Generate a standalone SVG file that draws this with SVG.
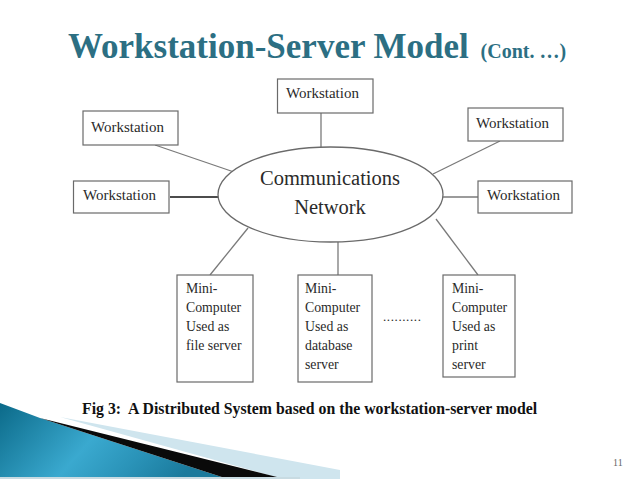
<svg xmlns="http://www.w3.org/2000/svg" width="638" height="479" viewBox="0 0 638 479">
<style>
.box{fill:#fff;stroke:#6a6a6a;stroke-width:1.2}
.lbl{font-family:"Liberation Serif","Times New Roman",serif;font-size:15px;fill:#2a2a2a}
.mini{font-family:"Liberation Serif","Times New Roman",serif;font-size:13.8px;fill:#2a2a2a}
.conn line{stroke:#7a7a7a;stroke-width:1.3}
</style>
<defs>
<linearGradient id="teal" x1="0" y1="0" x2="1" y2="0.3">
<stop offset="0" stop-color="#0b6a89"/>
<stop offset="0.5" stop-color="#3aa9cf"/>
<stop offset="0.75" stop-color="#2a93b8"/>
<stop offset="1" stop-color="#1a7a9c"/>
</linearGradient>
</defs>
<rect width="638" height="479" fill="#fff"/>
<g id="title">
<text x="68" y="58" font-family="'Liberation Serif','Times New Roman',serif" font-weight="bold" font-size="35" fill="#2c6f83">Workstation-Server Model <tspan font-size="20" dx="3">(Cont. …)</tspan></text>
</g>
<g id="decoration">
<polygon points="60,417 340,470 340,479 283,479" fill="#cfe5ee"/>
<polygon points="0,403 40,418 228,479 0,479" fill="url(#teal)"/>
<polygon points="40,418 285,479 228,479" fill="#0a0a0a"/>
<rect x="0" y="477" width="300" height="2" fill="#c8dbe2"/>
</g>
<g class="conn" id="connectors">
<line x1="321" y1="113" x2="321" y2="147"/>
<line x1="155" y1="145" x2="234" y2="172"/>
<line x1="170" y1="197" x2="218" y2="197" style="stroke:#111"/>
<line x1="500" y1="141" x2="433" y2="174"/>
<line x1="443" y1="197" x2="478" y2="197"/>
<line x1="248" y1="228" x2="210" y2="275"/>
<line x1="338" y1="242" x2="338" y2="275"/>
<line x1="436" y1="219" x2="478" y2="275"/>
</g>
<g id="network">
<ellipse cx="330.5" cy="194.5" rx="112.5" ry="47.5" fill="#fff" stroke="#6a6a6a" stroke-width="1.3"/>
<text x="330" y="185" text-anchor="middle" font-family="'Liberation Serif','Times New Roman',serif" font-size="20.5" fill="#2a2a2a">Communications</text>
<text x="330" y="214" text-anchor="middle" font-family="'Liberation Serif','Times New Roman',serif" font-size="20.5" fill="#2a2a2a">Network</text>
</g>
<g id="ws-top"><rect class="box" x="277.5" y="79" width="95.5" height="34"/><text class="lbl" x="286" y="98">Workstation</text></g>
<g id="ws-upleft"><rect class="box" x="83" y="111" width="95" height="34"/><text class="lbl" x="91" y="132">Workstation</text></g>
<g id="ws-upright"><rect class="box" x="468" y="108" width="95" height="33"/><text class="lbl" x="476" y="128">Workstation</text></g>
<g id="ws-left"><rect class="box" x="73.5" y="181" width="95.5" height="32"/><text class="lbl" x="83" y="200">Workstation</text></g>
<g id="ws-right"><rect class="box" x="478" y="181" width="94" height="32"/><text class="lbl" x="487" y="200">Workstation</text></g>
<g id="mini-file"><rect class="box" x="177" y="275" width="76" height="107"/>
<text class="mini" x="186" y="293">Mini-</text><text class="mini" x="186" y="312">Computer</text><text class="mini" x="186" y="331">Used as</text><text class="mini" x="186" y="350">file server</text></g>
<g id="mini-db"><rect class="box" x="298" y="275" width="74" height="107"/>
<text class="mini" x="305" y="293">Mini-</text><text class="mini" x="305" y="312">Computer</text><text class="mini" x="305" y="331">Used as</text><text class="mini" x="305" y="350">database</text><text class="mini" x="305" y="369">server</text></g>
<g id="mini-print"><rect class="box" x="443" y="275" width="72" height="102"/>
<text class="mini" x="452" y="293">Mini-</text><text class="mini" x="452" y="312">Computer</text><text class="mini" x="452" y="331">Used as</text><text class="mini" x="452" y="350">print</text><text class="mini" x="452" y="369">server</text></g>
<text x="383" y="321" font-family="'Liberation Serif','Times New Roman',serif" font-size="13" fill="#2a2a2a" letter-spacing="0.6">..........</text>
<text x="82" y="414" font-family="'Liberation Serif','Times New Roman',serif" font-weight="bold" font-size="15.8" fill="#111" xml:space="preserve">Fig 3:  A Distributed System based on the workstation-server model</text>
<text x="613" y="466" font-family="'Liberation Serif','Times New Roman',serif" font-size="10" fill="#666">11</text>
</svg>
